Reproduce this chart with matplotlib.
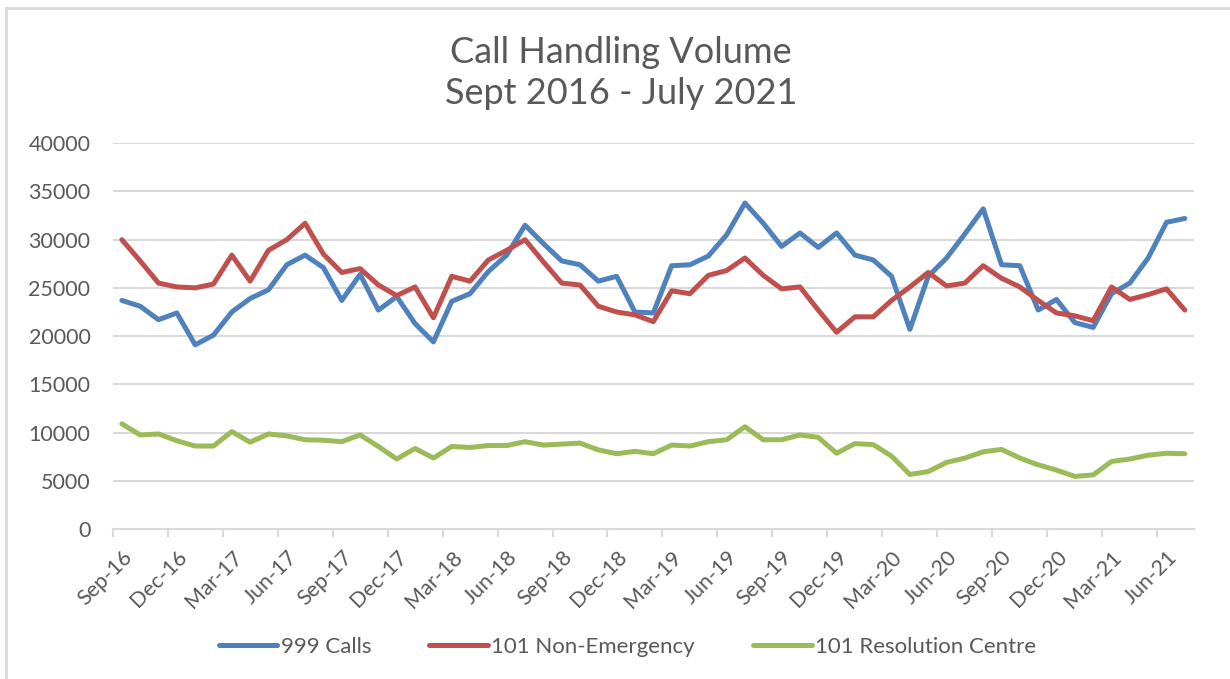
import numpy as np
import matplotlib
matplotlib.use('Agg')
import matplotlib.pyplot as plt
from matplotlib.lines import Line2D

plt.rcParams['font.family'] = ['Lato', 'DejaVu Sans']

# monthly, Sep-16 .. Jul-21
calls_999 = [23700, 23100, 21700, 22400, 19100, 20100, 22500, 23900, 24800, 27400,
             28400, 27100, 23700, 26400, 22700, 24100, 21300, 19400, 23600, 24400,
             26700, 28400, 31500, 29600, 27800, 27400, 25700, 26200, 22500, 22400,
             27300, 27400, 28300, 30500, 33800, 31700, 29300, 30700, 29200, 30700,
             28400, 27900, 26200, 20700, 26200, 28100, 30600, 33200, 27400, 27300,
             22700, 23800, 21400, 20900, 24400, 25500, 28100, 31800, 32200]
non_emergency_101 = [30000, 27800, 25500, 25100, 25000, 25400, 28400, 25700, 28900, 30000,
                     31700, 28500, 26600, 27000, 25300, 24200, 25100, 21900, 26200, 25700,
                     27900, 28900, 30000, 27700, 25500, 25300, 23100, 22500, 22200, 21500,
                     24700, 24400, 26300, 26800, 28100, 26300, 24900, 25100, 22700, 20400,
                     22000, 22000, 23700, 25100, 26600, 25200, 25500, 27300, 26000, 25100,
                     23700, 22400, 22100, 21600, 25100, 23800, 24300, 24900, 22700]
resolution_101 = [10900, 9750, 9850, 9150, 8600, 8600, 10100, 9000, 9850, 9650,
                  9250, 9200, 9050, 9750, 8550, 7250, 8350, 7350, 8550, 8450,
                  8650, 8650, 9050, 8700, 8800, 8900, 8200, 7800, 8050, 7800,
                  8700, 8600, 9050, 9250, 10600, 9250, 9250, 9750, 9500, 7850,
                  8850, 8750, 7550, 5650, 5950, 6900, 7350, 8000, 8250, 7350,
                  6650, 6100, 5450, 5600, 7000, 7250, 7650, 7850, 7800]
tick_labels = ['Sep-16', 'Dec-16', 'Mar-17', 'Jun-17', 'Sep-17', 'Dec-17', 'Mar-18',
               'Jun-18', 'Sep-18', 'Dec-18', 'Mar-19', 'Jun-19', 'Sep-19', 'Dec-19',
               'Mar-20', 'Jun-20', 'Sep-20', 'Dec-20', 'Mar-21', 'Jun-21']
series_names = ['999 Calls', '101 Non-Emergency', '101 Resolution Centre']

colors = ['#4F81BD', '#C0504D', '#9BBB59']
grey_txt = '#595959'
grey_line = '#D9D9D9'

fig = plt.figure(figsize=(12.3, 6.79), dpi=100)
ax = fig.add_axes([0.0916, 0.221, 0.8791, 0.568])

x = np.arange(len(calls_999))
for vals, c, name in zip([calls_999, non_emergency_101, resolution_101], colors, series_names):
    ax.plot(x, vals, color=c, lw=3.6, label=name, solid_capstyle='round', solid_joinstyle='round')

ax.set_xlim(-0.5, len(x) - 0.5)
ax.set_ylim(0, 40000)
ax.set_yticks(np.arange(0, 40001, 5000))
ax.grid(axis='y', color=grey_line, lw=1.5)
ax.set_axisbelow(True)
for s in ['top', 'right', 'left']:
    ax.spines[s].set_visible(False)
ax.spines['bottom'].set_color(grey_line)
ax.spines['bottom'].set_linewidth(1.5)

# tick marks between categories, labels on categories
ax.set_xticks(np.arange(-0.5, len(x), 3))
ax.set_xticklabels([])
ax.tick_params(axis='x', which='major', length=6, width=1.5, color=grey_line)
ax.set_xticks(np.arange(0, len(x), 3), minor=True)
ax.set_xticklabels(tick_labels, minor=True, rotation=45, ha='right', va='top',
                   rotation_mode='anchor', fontsize=15.5, color=grey_txt)
ax.tick_params(axis='x', which='minor', length=0, pad=13)
ax.tick_params(axis='y', length=0, labelsize=15.5, labelcolor=grey_txt, pad=16)

fig.text(0.505, 0.893, 'Call Handling Volume\nSept 2016 - July 2021', ha='center', va='center',
         fontsize=26, color=grey_txt, linespacing=1.3)

handles = [Line2D([0], [0], color=c, lw=3.6, solid_capstyle='round') for c in colors]
fig.legend(handles, series_names, loc='center', bbox_to_anchor=(0.51, 0.047), ncol=3,
           frameon=False, fontsize=16, labelcolor=grey_txt, handlelength=2.65,
           handletextpad=0.15, columnspacing=2.6)

# chart area border (top and left visible)
fig.add_artist(Line2D([6 / 1230, 1], [1 - 8 / 679, 1 - 8 / 679], color=grey_line, lw=2,
                      transform=fig.transFigure))
fig.add_artist(Line2D([6 / 1230, 6 / 1230], [0, 1 - 8 / 679], color=grey_line, lw=2,
                      transform=fig.transFigure))

fig.savefig('out.png', dpi=100)
